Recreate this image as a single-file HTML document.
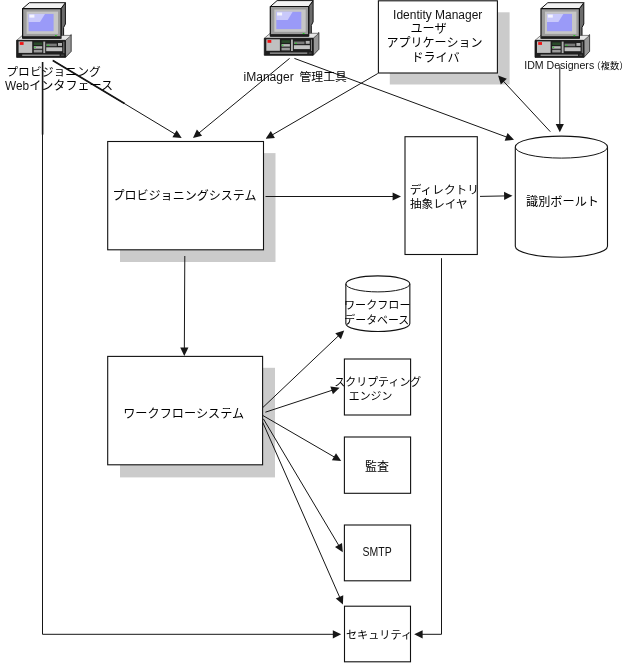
<!DOCTYPE html>
<html lang="ja">
<head>
<meta charset="utf-8">
<title>Identity Manager User Application architecture</title>
<style>
html,body{margin:0;padding:0;background:#fff}
body{width:625px;height:663px;overflow:hidden;font-family:"Liberation Sans",sans-serif}
svg{display:block;position:absolute;left:0;top:0;will-change:transform}
.sh{fill:#cbcbcb;stroke:none}
.bx{fill:#fff;stroke:#111;stroke-width:1.1}
.ln{fill:none;stroke:#161616;stroke-width:1}
.ln .h{fill:#161616;stroke:none}
.jp{font-family:"Liberation Sans","Noto Sans CJK JP",sans-serif;fill:#000}
.tx{font-family:"Liberation Sans",sans-serif;fill:#111}
</style>
</head>
<body>
<svg width="625" height="663" viewBox="0 0 625 663" role="img" aria-label="architecture diagram">
<g id="boxes">
<rect class="sh" x="120" y="153.1" width="155.5" height="108.9"/><rect class="bx" x="107.7" y="141.5" width="155.8" height="108.3"/>
<rect class="sh" x="120" y="367.8" width="155" height="109.6"/><rect class="bx" x="107.7" y="356.4" width="154.9" height="108.4"/>
<rect class="sh" x="389.8" y="12.3" width="119.8" height="72.2"/><rect class="bx" x="378.4" y="0.8" width="119" height="72.2"/>
<rect class="bx" x="405" y="136.7" width="72.3" height="117.8"/>
<rect class="bx" x="344.4" y="359" width="66.2" height="56"/>
<rect class="bx" x="344.4" y="437" width="66.2" height="56.3"/>
<rect class="bx" x="344.4" y="525" width="66.2" height="55.8"/>
<rect class="bx" x="344.5" y="606.2" width="66" height="55.6"/>
<path class="bx" d="M515.3 147.1V246.2A46.1 11 0 0 0 607.5 246.2V147.1A46.1 11 0 0 0 515.3 147.1Z"/><path class="ln" d="M515.3 147.1A46.1 11 0 0 0 607.5 147.1"/>
<path class="bx" d="M345.85 283.9V323.5A32 8 0 0 0 409.85 323.5V283.9A32 8 0 0 0 345.85 283.9Z"/><path class="ln" d="M345.85 283.9A32 8 0 0 0 409.85 283.9"/>
</g>
<defs><g id="pc"><g stroke-linejoin="round">
<!-- monitor right side -->
<path d="M61 8.6L65.4 2.7V24L63.6 27.5V38H61Z" fill="#6c6c6c" stroke="#111" stroke-width="1"/>
<!-- monitor top -->
<path d="M22.6 8.6L29.4 2.7H65.4L61 8.6Z" fill="#f3f3f3" stroke="#111" stroke-width="1"/>
<!-- base right side -->
<path d="M65.4 40.3L71.2 34.6V51.4L65.6 57.3Z" fill="#979797" stroke="#222" stroke-width=".8"/>
<!-- base top -->
<path d="M16.6 40.4L22.4 35.4H71.2L65.4 40.4Z" fill="#e6e6e6" stroke="#333" stroke-width=".6"/>
<!-- monitor front -->
<rect x="22.6" y="8.6" width="38.4" height="29.6" fill="#9c9c9c" stroke="#111" stroke-width="1.2"/>
<rect x="26.6" y="11.6" width="31.4" height="22.3" fill="#c6c6c6"/>
<rect x="28.6" y="13.9" width="25" height="17.3" fill="#9a9af8"/>
<path d="M28.6 13.9H45L40 22H28.6Z" fill="#c9c9fb"/>
<rect x="29.4" y="14.6" width="5" height="3" fill="#f4f4ff"/>
<rect x="22.9" y="36.2" width="37.8" height="2.3" fill="#1c1c1c"/>
<rect x="55" y="35.1" width="1.8" height="1" fill="#1fd21f"/>
<!-- base front -->
<rect x="16.6" y="40.4" width="48.8" height="17" fill="#1e1e1e" stroke="#111" stroke-width=".8"/>
<rect x="18.6" y="41.4" width="13.6" height="11.5" fill="#c0c0c0"/>
<rect x="19.8" y="42.1" width="3.8" height="2.8" fill="#f01414"/>
<rect x="33.8" y="42.4" width="8.4" height="2.6" fill="#2a4a2a"/>
<rect x="33.8" y="46.2" width="8.4" height="2.5" fill="#b8b8b8"/>
<rect x="34.2" y="46.8" width="1.6" height="1" fill="#1fd21f"/>
<rect x="33.8" y="49.8" width="8.4" height="2.7" fill="#9a9a9a"/>
<rect x="43.3" y="41.6" width="1.9" height="11.5" fill="#b0b0b0"/>
<rect x="46.2" y="43.6" width="10.6" height="2.6" fill="#7a7a7a"/>
<rect x="47.2" y="44.9" width="2" height=".9" fill="#1fd21f"/>
<rect x="58" y="43" width="4" height="2.9" fill="#b0b0b0"/>
<rect x="46.2" y="47.3" width="16" height="3.9" fill="#c2c2c2"/>
<rect x="63.4" y="41.6" width=".9" height="11.5" fill="#8c8c8c"/>
<rect x="22.2" y="54.5" width="37.4" height="1.5" fill="#8e8e8e"/>
<rect x="61" y="54.6" width="2.9" height="1.2" fill="#4c4c4c"/>
</g>
</g></defs>
<use href="#pc"/><use href="#pc" x="247.7" y="-2.1"/><use href="#pc" x="518.4" y="0"/>
<g id="lines" class="ln">
<line x1="52.8" y1="60.4" x2="124.5" y2="103.6" stroke-width="1.75"/>
<polyline points="52.8,60.4 175.94,134.63" stroke-width="1"/><polygon class="h" points="181.7,138.1 172.39,137.27 176.62,130.25"/>
<polyline points="289.6,58.4 198.19,133.63" stroke-width="1"/><polygon class="h" points="193,137.9 196.88,129.4 202.09,135.73"/>
<polyline points="377.8,73.5 271.41,135.42" stroke-width="1"/><polygon class="h" points="265.6,138.8 270.8,131.03 274.92,138.12"/>
<polyline points="294.4,58.4 507.7,137.46" stroke-width="1"/><polygon class="h" points="514,139.8 504.7,140.72 507.55,133.04"/>
<polyline points="550.3,131.7 502.67,80.42" stroke-width="1"/><polygon class="h" points="498.1,75.5 506.82,78.86 500.81,84.44"/>
<polyline points="559.8,66 559.8,125.58" stroke-width="1"/><polygon class="h" points="559.8,132.3 555.7,123.9 563.9,123.9"/>
<polyline points="265.5,196.5 394.28,196.5" stroke-width="1"/><polygon class="h" points="401,196.5 392.6,200.6 392.6,192.4"/>
<polyline points="480,196.4 505.78,195.92" stroke-width="1"/><polygon class="h" points="512.5,195.8 504.18,200.05 504.03,191.86"/>
<polyline points="184.8,256 184.33,349.28" stroke-width="1"/><polygon class="h" points="184.3,356 180.24,347.58 188.44,347.62"/>
<polyline points="262.5,407.8 339.32,335.02" stroke-width="1"/><polygon class="h" points="344.2,330.4 340.92,339.15 335.28,333.2"/>
<polyline points="265.4,412.2 333.22,389.9" stroke-width="1"/><polygon class="h" points="339.6,387.8 332.9,394.32 330.34,386.53"/>
<polyline points="262.5,415.3 335.39,457.63" stroke-width="1"/><polygon class="h" points="341.2,461 331.88,460.33 335.99,453.24"/>
<polyline points="263.4,418.9 339.36,546.43" stroke-width="1"/><polygon class="h" points="342.8,552.2 334.98,547.08 342.02,542.89"/>
<polyline points="262.7,422.2 340.2,598.45" stroke-width="1"/><polygon class="h" points="342.9,604.6 335.77,598.56 343.27,595.26"/>
<line x1="42.6" y1="62" x2="42.6" y2="134.6" stroke-width="1.6"/>
<polyline points="42.5,62 42.5,634.3 334.48,634.3" stroke-width="1"/><polygon class="h" points="341.2,634.3 332.8,638.4 332.8,630.2"/>
<polyline points="441.5,258.2 441.5,634.3 420.92,634.3" stroke-width="1"/><polygon class="h" points="414.2,634.3 422.6,630.2 422.6,638.4"/>
</g>
<g id="jp" class="jp">
<text x="112.5" y="200.3" font-size="12" textLength="144" lengthAdjust="spacingAndGlyphs">プロビジョニングシステム</text>
<text x="123.2" y="418.2" font-size="12" textLength="121" lengthAdjust="spacingAndGlyphs">ワークフローシステム</text>
<text x="409.8" y="194.2" font-size="11.5" textLength="69" lengthAdjust="spacingAndGlyphs">ディレクトリ</text>
<text x="410" y="208.1" font-size="11.5" textLength="57.5" lengthAdjust="spacingAndGlyphs">抽象レイヤ</text>
<text x="526" y="206.3" font-size="12" textLength="73" lengthAdjust="spacingAndGlyphs">識別ボールト</text>
<text x="410.5" y="33" font-size="12" textLength="36" lengthAdjust="spacingAndGlyphs">ユーザ</text>
<text x="386.5" y="47.3" font-size="12" textLength="96" lengthAdjust="spacingAndGlyphs">アプリケーション</text>
<text x="411.5" y="61.8" font-size="12" textLength="48" lengthAdjust="spacingAndGlyphs">ドライバ</text>
<text x="6.3" y="75.5" font-size="11.8" textLength="94.5" lengthAdjust="spacingAndGlyphs">プロビジョニング</text>
<text x="29.2" y="90.2" font-size="12" textLength="84" lengthAdjust="spacingAndGlyphs">インタフェース</text>
<text x="299.5" y="81.4" font-size="11.8" textLength="47.5" lengthAdjust="spacingAndGlyphs">管理工具</text>
<text x="344" y="309.4" font-size="11" textLength="66.5" lengthAdjust="spacingAndGlyphs">ワークフロー</text>
<text x="344.3" y="324.1" font-size="11" textLength="65" lengthAdjust="spacingAndGlyphs">データベース</text>
<text x="334.3" y="385.7" font-size="11" textLength="87" lengthAdjust="spacingAndGlyphs">スクリプティング</text>
<text x="348.8" y="399.9" font-size="11" textLength="43.5" lengthAdjust="spacingAndGlyphs">エンジン</text>
<text x="365" y="470.7" font-size="12" textLength="24" lengthAdjust="spacingAndGlyphs">監査</text>
<text x="346" y="639" font-size="11" textLength="66" lengthAdjust="spacingAndGlyphs">セキュリティ</text>
<text x="591.6" y="68.7" font-size="9.2" textLength="36.8" lengthAdjust="spacingAndGlyphs">（複数）</text>
</g>
<g id="latin" class="tx">
<text x="393.1" y="18.8" font-size="12" textLength="89.2" lengthAdjust="spacingAndGlyphs">Identity Manager</text>
<text x="5.1" y="90.4" font-size="12.5" textLength="24.1" lengthAdjust="spacingAndGlyphs">Web</text>
<text x="243.5" y="81.2" font-size="12" textLength="50.2" lengthAdjust="spacingAndGlyphs">iManager</text>
<text x="524.2" y="69" font-size="11.8" textLength="70" lengthAdjust="spacingAndGlyphs">IDM Designers</text>
<text x="362.6" y="556" font-size="12.2" textLength="29.1" lengthAdjust="spacingAndGlyphs">SMTP</text>
</g>
</svg>
</body>
</html>
